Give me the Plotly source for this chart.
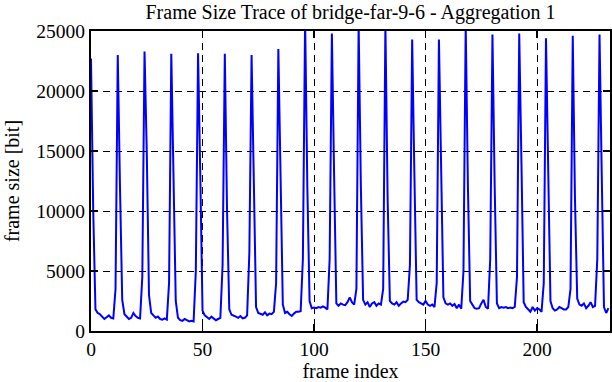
import plotly.graph_objects as go

# Frame sizes [bit], one row per GoP of 12 frames (frame indices 0..232)
gop_rows = [
    [22700, 10000, 1800, 1500, 1400, 1200, 1000, 1150, 1300, 1100, 1050, 3500],
    [23000, 12000, 2600, 1400, 1200, 1000, 1100, 1500, 1250, 1100, 1050, 4500],
    [23300, 15000, 3000, 1500, 1300, 1100, 1200, 1000, 950, 1050, 950, 4000],
    [23100, 14000, 2500, 1100, 900, 850, 1000, 900, 800, 850, 800, 5000],
    [23150, 13000, 1700, 1300, 1150, 1000, 1200, 1050, 900, 1000, 1100, 5500],
    [23100, 10000, 1800, 1350, 1300, 1200, 1100, 1250, 1050, 1100, 1300, 6500],
    [23000, 12000, 2000, 1500, 1400, 1350, 1550, 1300, 1450, 1400, 1600, 4000],
    [23500, 14000, 2200, 1500, 1600, 1400, 1250, 1450, 1600, 1600, 1650, 6000],
    [26000, 12000, 2500, 1900, 1950, 1900, 2000, 1950, 2050, 1950, 1800, 6000],
    [24800, 13000, 2300, 2100, 2300, 2200, 2150, 2400, 2800, 2400, 2200, 3500],
    [25500, 12000, 2600, 2200, 2400, 2000, 2300, 2400, 2100, 2300, 2200, 3500],
    [25500, 11000, 2500, 2300, 2200, 2400, 2100, 2300, 2450, 2400, 2600, 5500],
    [24300, 13000, 2600, 2400, 2300, 2200, 2500, 2200, 2100, 2200, 2000, 4000],
    [24300, 13000, 2800, 2300, 2200, 2300, 2100, 2250, 1900, 2200, 1850, 5000],
    [25500, 12000, 2500, 2200, 1900, 1850, 1900, 2300, 2600, 2000, 1850, 6000],
    [24700, 12000, 2300, 1900, 2000, 1950, 2000, 1900, 1950, 1900, 2000, 4500],
    [24800, 14000, 2400, 2000, 1800, 1600, 2000, 1700, 1900, 1800, 1600, 4000],
    [24400, 12000, 2500, 1900, 1700, 1800, 2000, 1900, 1800, 1800, 2000, 3500],
    [24600, 11000, 2700, 2200, 2100, 2300, 1900, 2100, 2400, 2000, 2100, 6000],
    [24700, 13000, 2000, 1500, 1900],
]
frame_size = [v for row in gop_rows for v in row]
frame_index = list(range(len(frame_size)))

x_ticks = [0, 50, 100, 150, 200]
y_ticks = [0, 5000, 10000, 15000, 20000, 25000]
x_tick_labels = [str(v) for v in x_ticks]
y_tick_labels = [str(v) for v in y_ticks]

serif = "Liberation Serif"

fig = go.Figure()
fig.add_trace(go.Scatter(
    x=frame_index, y=frame_size, mode="lines",
    line=dict(color="#0000FF", width=2),
    showlegend=False, hoverinfo="skip",
))

axis_common = dict(
    showline=True, linecolor="black", linewidth=2, mirror="ticks",
    ticks="inside", ticklen=7, tickwidth=1.5, tickcolor="black",
    showgrid=True, gridcolor="black", gridwidth=1, griddash="7px,5px",
    zeroline=False,
    tickfont=dict(family=serif, size=19.5, color="black"),
    title_font=dict(family=serif, size=20, color="black"),
)

fig.update_xaxes(range=[0, 232.7], tickvals=x_ticks, ticktext=x_tick_labels,
                 title_text="frame index", title_standoff=5, **axis_common)
fig.update_yaxes(range=[0, 25000], tickvals=y_ticks, ticktext=y_tick_labels,
                 title_text="frame size [bit]", title_standoff=11, **axis_common)

fig.update_layout(
    width=612, height=382,
    margin=dict(l=91, r=2, t=31, b=51, autoexpand=False),
    paper_bgcolor="white", plot_bgcolor="white",
    font=dict(family=serif, size=20, color="black"),
    title=dict(text="Frame Size Trace of bridge-far-9-6 - Aggregation 1",
               x=0.5, xref="paper", xanchor="center",
               y=1 - 12 / 382, yref="container", yanchor="middle",
               font=dict(family=serif, size=20, color="black")),
)

fig.write_html("out.html",
               config={"displayModeBar": False, "staticPlot": True},
               post_script="document.body.style.margin='0px';document.body.style.padding='0px';")
